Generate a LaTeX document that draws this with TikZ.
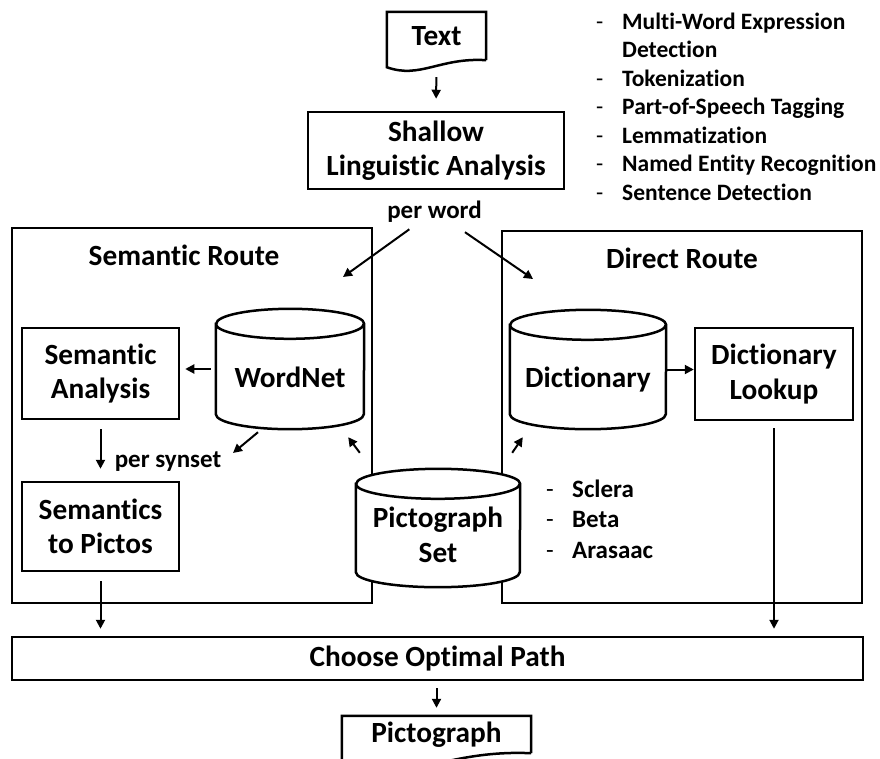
\documentclass[tikz,border=0pt]{standalone}
\usepackage{fontspec}
\setmainfont{Carlito}[Ligatures=NoCommon]
\usetikzlibrary{arrows.meta}
\tikzset{
    every node/.style={font=\bfseries\fontsize{29.3}{34.5}\selectfont,
    	inner sep=0pt}
}
\tikzset{
    box/.style={draw, line width=2.5pt, align=center},
    outline/.style={draw, line width=2.5pt},
    small/.style={font=\bfseries\fontsize{25}{30}\selectfont},
    arr/.style={line width=2pt, -{Triangle[length=9pt,width=9pt]}}
}
\pgfdeclarelayer{background}
\pgfsetlayers{background,main}
\newcommand{\drum}[2]{%
	\draw[outline, fill=white] ([yshift=-15pt]#1.north west) -- ([yshift=15pt]#1.south west)
		arc[start angle=180, end angle=360, x radius=#2, y radius=15pt]
		-- ([yshift=-15pt]#1.north east)
		arc[start angle=0, end angle=180, x radius=#2, y radius=15pt] -- cycle
		([yshift=-15pt]#1.north west)
		arc[start angle=180, end angle=360, x radius=#2, y radius=15pt];
}

\begin{document}
\begin{tikzpicture}[x=1pt, y=-1pt]
	\useasboundingbox (0,0) rectangle (880,758);
	\clip (0,0) rectangle (880,758);

	\node (txt) [minimum width=99, minimum height=48] at (436.5,36) {Text};
	\draw[outline] (txt.south east) -- (txt.north east) -- (txt.north west)
		-- ([yshift=-7pt]txt.south west) .. controls +(33,12) and +(-46,-3) .. (txt.south east);
	\node (sla) [box, minimum width=256, minimum height=77] at (436,150.5) {Shallow\\Linguistic Analysis};
	\node (pw) [small, anchor=base] at (434.5,218) {per word};
	\node (nlp) [anchor=base west] at (596,29) {\fontsize{23.5}{28.5}\selectfont
		\begin{tabular}[t]{@{}l@{}}
		\makebox[26pt][l]{\mdseries -}Multi-Word Expression\\
		\hspace*{26pt}Detection\\
		\makebox[26pt][l]{\mdseries -}Tokenization\\
		\makebox[26pt][l]{\mdseries -}Part-of-Speech Tagging\\
		\makebox[26pt][l]{\mdseries -}Lemmatization\\
		\makebox[26pt][l]{\mdseries -}Named Entity Recognition\\
		\makebox[26pt][l]{\mdseries -}Sentence Detection
		\end{tabular}};

	\begin{pgfonlayer}{background}
		\node (sr) [box, minimum width=360, minimum height=375] at (192,415.5) {};
		\node (dr) [box, minimum width=360, minimum height=372] at (682,417) {};
	\end{pgfonlayer}
	\node (sr title) [anchor=base] at (184,265) {Semantic Route};
	\node (dr title) [anchor=base] at (682,268) {Direct Route};

	\node (sa) [box, minimum width=157, minimum height=91] at (100.5,373.5) {Semantic\\Analysis};
	\node (stp) [box, minimum width=157, minimum height=89] at (100.5,526.5) {Semantics\\to Pictos};
	\node (dl) [box, minimum width=158, minimum height=92] at (774,374) {Dictionary\\Lookup};
	\node (psy) [small, anchor=base] at (168,467) {per synset};

	\node (wn) [minimum width=148, minimum height=120] at (290,369) {};
	\drum{wn}{74pt}
	\node (wn txt) [anchor=base] at (290,387) {WordNet};
	\node (dict) [minimum width=156, minimum height=119] at (588,369.5) {};
	\drum{dict}{78pt}
	\node (dict txt) [anchor=base] at (588,387) {Dictionary};
	\node (ps) [minimum width=164, minimum height=118] at (438,528) {};
	\drum{ps}{82pt}
	\node (ps txt) [align=center] at (438,535) {Pictograph\\Set};
	\node (sets) [anchor=base west] at (546,497) {\fontsize{25}{30.5}\selectfont
		\begin{tabular}[t]{@{}l@{}}
		\makebox[26pt][l]{\mdseries -}Sclera\\
		\makebox[26pt][l]{\mdseries -}Beta\\
		\makebox[26pt][l]{\mdseries -}Arasaac
		\end{tabular}};

	\node (cop) [box, minimum width=851, minimum height=43] at (437.5,658.5) {Choose Optimal Path};
	\node (pic) [minimum width=189, minimum height=37] at (436.5,734.5) {Pictograph};
	\draw[outline] (pic.south east) -- (pic.north east) -- (pic.north west)
		-- ([yshift=-14pt]pic.south west) .. controls +(60,20) and +(-90,-4) .. (pic.south east);

	\coordinate (sr in) at (343,277);
	\coordinate (dr in) at (533,279);
	\coordinate (syn) at (233,453);
	\draw[arr, shorten <=17pt, shorten >=12pt] (txt.south) -- (sla.north);
	\draw[arr, shorten <=31pt] (pw.center) -- (sr in);
	\draw[arr, shorten <=37pt] (pw.center) -- (dr in);
	\draw[arr, shorten <=5pt, shorten >=5pt] (wn.west) -- (wn.west -| sa.east);
	\draw[arr] (dict.east) -- (dict.east -| dl.west);
	\draw[arr, shorten <=9pt, shorten >=12pt] (sa.south) -- (stp.north);
	\draw[arr] ([shift={(-32pt,-3pt)}]wn.south) -- (syn);
	\draw[arr] ([shift={(4pt,16pt)}]ps.north west) -- ([shift={(-16pt,-8pt)}]wn.south east);
	\draw[arr] ([shift={(-8pt,16pt)}]ps.north east) -- ([shift={(13pt,-8pt)}]dict.south west);
	\draw[arr, shorten <=9pt, shorten >=7pt] (stp.south) -- (stp.south |- cop.north);
	\draw[arr, shorten <=7pt, shorten >=7pt] (dl.south) -- (dl.south |- cop.north);
	\draw[arr, shorten <=7pt, shorten >=8pt] (cop.south -| pic.north) -- (pic.north);
\end{tikzpicture}
\end{document}
